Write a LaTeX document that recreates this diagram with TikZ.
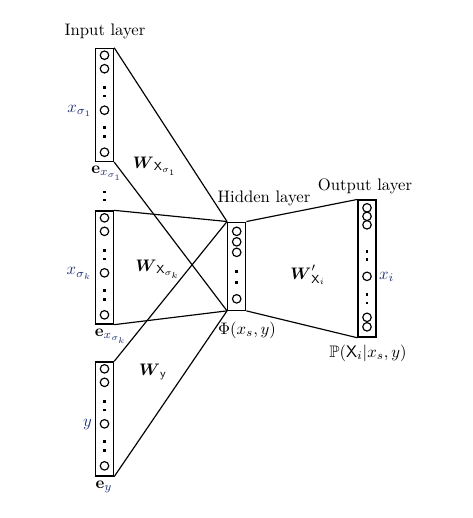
\documentclass[tikz,border=0pt]{standalone}
\usepackage{amsmath}
\usepackage{amssymb}
\usepackage{tikz}
\usetikzlibrary{calc}

\definecolor{varblue}{RGB}{35,50,120}

\tikzset{
  layerbox/.style={draw, line width=0.8pt, inner sep=0pt, minimum width=10.8pt, minimum height=#1*0.6pt},
  unit/.style={line width=0.7pt},
  link/.style={line width=0.7pt},
}

\begin{document}
\begin{tikzpicture}[x=0.6pt,y=-0.6pt]
            % Canvas of the picture
            \useasboundingbox (0,0) rectangle (473,518);

            \def\xin{104.5}  % centre of the input columns
            \def\xhid{236.7} % centre of the hidden column
            \def\xout{367}   % centre of the output column
            \def\r{2.55pt}   % radius of a unit

            % Draw the layers
            \node[layerbox=113] (in1) at (\xin,104.9) {};
            \node[layerbox=113] (in2) at (\xin,267.5) {};
            \node[layerbox=114] (in3) at (\xin,419) {};
            \node[layerbox=88] (hid) at (\xhid,266.2) {};
            \node[layerbox=137] (out) at (\xout,268.6) {};

            % Draw the units of the input columns
            \foreach \col in {in1,in2,in3} {
                \foreach \t in {7.5,21,62.5,104.5}
                    \draw[unit] ($(\col.north)+(0,\t)$) circle[radius=\r];
                \foreach \t in {40,48.5,80,89}
                    \fill ($(\col.north)+(0,\t)$) +(-1.25,-1.25) rectangle +(1.25,1.25);
            }

            % Draw the units of the hidden column
            \foreach \t in {9.8,20.3,30.8,77.3}
                \draw[unit] ($(hid.north)+(0,\t)$) circle[radius=\r];
            \foreach \t in {49.8,60.8}
                \fill ($(hid.north)+(0,\t)$) +(-1.25,-1.25) rectangle +(1.25,1.25);

            % Draw the units of the output column
            \foreach \t in {8.4,16.9,25.4,76.9,117.9,127.4}
                \draw[unit] ($(out.north)+(0,\t)$) circle[radius=\r];
            \foreach \t in {51.9,59.9,94.9,103.4}
                \fill ($(out.north)+(0,\t)$) +(-1.25,-1.25) rectangle +(1.25,1.25);

            % Dots between the input columns
            \foreach \t in {192,200}
                \fill (\xin,\t) +(-1.25,-1.25) rectangle +(1.25,1.25);

            % Draw the weights
            \draw[link] (in1.north east) -- (hid.north west);
            \draw[link] (in1.south east) -- (hid.south west);
            \draw[link] (in2.north east) -- (hid.north west);
            \draw[link] (in2.south east) -- (hid.south west);
            \draw[link] (in3.north east) -- (hid.north west);
            \draw[link] (in3.south east) -- (hid.south west);
            \draw[link] (hid.north east) -- (out.north west);
            \draw[link] (hid.south east) -- (out.south west);

            % Layer titles
            \node (inlbl) at (105,31) {Input layer};
            \node (hidlbl) at (264,198) {Hidden layer};
            \node (outlbl) at (365,186) {Output layer};

            % Values
            \node[anchor=east, inner sep=1pt, text=varblue] (x1) at (94,110.8) {$x_{\sigma_1}$};
            \node[anchor=east, inner sep=1pt, text=varblue] (xk) at (94,273.5) {$x_{\sigma_k}$};
            \node[anchor=east, inner sep=1pt, text=varblue] (yv) at (94,424.5) {$y$};
            \node[anchor=west, inner sep=1pt, text=varblue] (xi) at (377,277) {$x_i$};

            % Encodings
            \node (e1) at (107,173) {$\mathbf{e}_{\textcolor{varblue}{x_{\sigma_1}}}$};
            \node (ek) at (111,336) {$\mathbf{e}_{\textcolor{varblue}{x_{\sigma_k}}}$};
            \node (ey) at (104,487) {$\mathbf{e}_{\textcolor{varblue}{y}}$};

            % Weight matrices
            \node (w1) at (155,166) {$\boldsymbol{W}_{\mathsf{X}_{\sigma_1}}$};
            \node (wk) at (158,269) {$\boldsymbol{W}_{\mathsf{X}_{\sigma_k}}$};
            \node (wy) at (153,372) {$\boldsymbol{W}_{\mathsf{y}}$};
            \node (wo) at (308,275) {$\boldsymbol{W}'_{\mathsf{X}_i}$};

            % Outputs of the layers
            \node (phi) at (247,330) {$\Phi(x_s,y)$};
            \node (prob) at (368,353) {$\mathbb{P}(\mathsf{X}_i|x_s,y)$};

        \end{tikzpicture}
\end{document}
